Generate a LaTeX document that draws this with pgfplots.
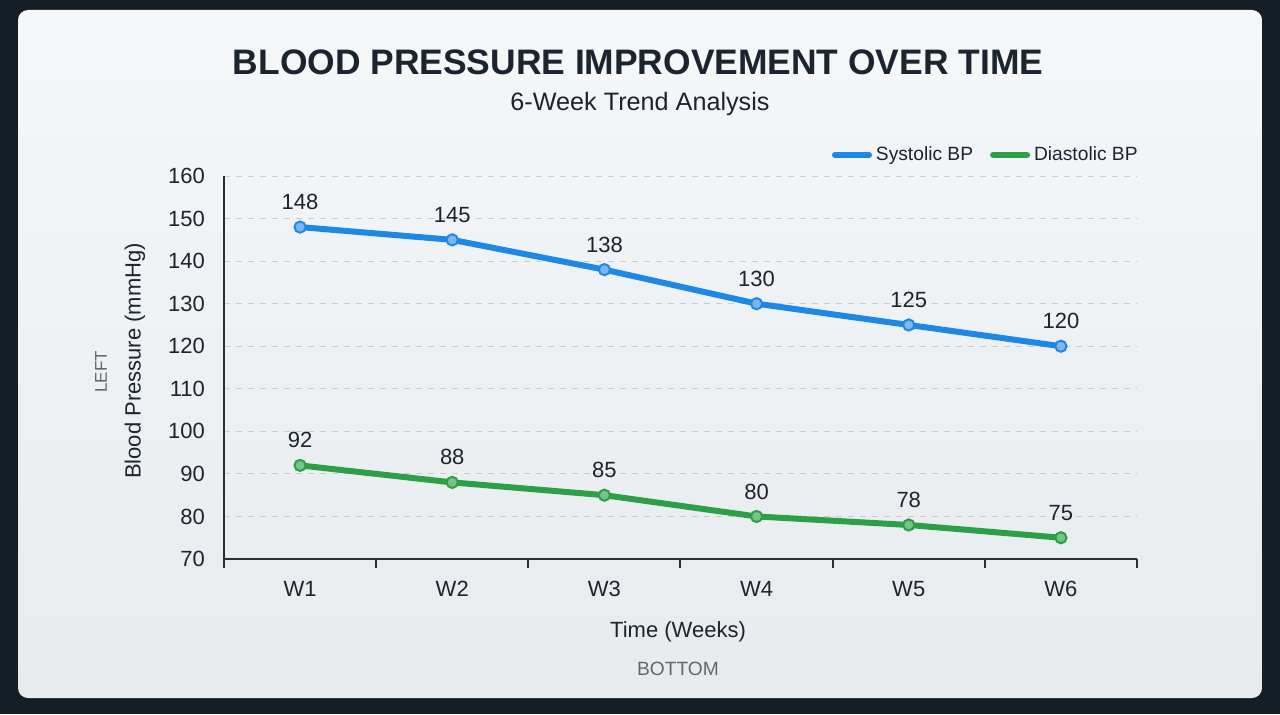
\documentclass[border=0pt]{standalone}
\usepackage{pgfplots}
\pgfplotsset{compat=1.18}
\usepackage{fontspec}
\setmainfont{Liberation Sans}
\definecolor{bgdark}{HTML}{151D27}
\definecolor{cardtop}{HTML}{F5F7F9}
\definecolor{cardbot}{HTML}{E7EBEE}
\definecolor{sysblue}{HTML}{1E88E5}
\definecolor{sysfill}{HTML}{7DB6F0}
\definecolor{diagreen}{HTML}{2E9E48}
\definecolor{diafill}{HTML}{74C488}
\definecolor{txtdark}{HTML}{1C2430}
\definecolor{txtgray}{HTML}{62676D}
\definecolor{axdark}{HTML}{2A2F36}
\begin{document}
\begin{tikzpicture}[x=1pt,y=1pt]
\useasboundingbox (0,0) rectangle (640,357);
\fill[bgdark] (0,0) rectangle (640,357);
\shade[rounded corners=5pt, top color=cardtop, bottom color=cardbot] (9,8) rectangle (631,352);
\node[font=\fontsize{17.7}{20}\selectfont\bfseries, text=txtdark] at (319,326) {BLOOD PRESSURE IMPROVEMENT OVER TIME};
\node[font=\fontsize{12.6}{15}\selectfont, text=txtdark] at (320,305) {6-Week Trend Analysis};
\node[font=\fontsize{11}{13}\selectfont, text=txtdark, rotate=90] at (67.5,176.5) {Blood Pressure (mmHg)};
\node[font=\fontsize{8.5}{10}\selectfont, text=txtgray, rotate=90] at (50.5,171) {LEFT};
\node[font=\fontsize{11}{13}\selectfont, text=txtdark] at (339,41) {Time (Weeks)};
\node[font=\fontsize{9.6}{11}\selectfont, text=txtgray] at (339,22.5) {BOTTOM};
\begin{axis}[
  at={(112pt,77.5pt)}, anchor=south west,
  scale only axis, width=456.5pt, height=191.5pt,
  xmin=-0.5, xmax=5.5, ymin=70, ymax=160,
  axis x line*=bottom, axis y line*=left,
  axis line style={-, color=axdark, line width=1pt},
  xtick={0,1,2,3,4,5},
  xticklabels={W1,W2,W3,W4,W5,W6},
  minor xtick={-0.5,0.5,1.5,2.5,3.5,4.5,5.5},
  ytick={70,80,...,160},
  major tick length=0pt, minor tick length=4.5pt,
  tick align=outside,
  minor tick style={color=axdark, line width=1pt},
  ymajorgrids,
  grid style={color=black!20, line width=0.5pt, dash pattern=on 3pt off 3pt},
  /pgf/number format/assume math mode=true,
  ticklabel style={font=\fontsize{11}{13}\selectfont, text=txtdark},
  yticklabel style={xshift=-6pt},
  xticklabel style={yshift=-7.5pt},
  nodes near coords,
  every node near coord/.append style={font=\fontsize{11}{13}\selectfont, text=txtdark, anchor=center, yshift=12.5pt},
  legend columns=2,
  legend style={at={(rel axis cs:1,1.055)}, anchor=east, xshift=2.5pt, draw=none, fill=none, inner sep=0pt,
    font=\fontsize{9.6}{11}\selectfont, text=txtdark,
    /tikz/every even column/.append style={column sep=6.5pt}},
  legend image code/.code={\draw[#1, line cap=round, mark=none] (0pt,0pt) -- (17pt,0pt);},
  clip=false,
]
\addplot[color=sysblue, line width=3pt, mark=*, mark size=2.8pt,
  mark options={fill=sysfill, draw=sysblue, line width=1pt}]
  coordinates {(0,148) (1,145) (2,138) (3,130) (4,125) (5,120)};
\addlegendentry{Systolic BP}
\addplot[color=diagreen, line width=3pt, mark=*, mark size=2.8pt,
  mark options={fill=diafill, draw=diagreen, line width=1pt}]
  coordinates {(0,92) (1,88) (2,85) (3,80) (4,78) (5,75)};
\addlegendentry{Diastolic BP}
\end{axis}
\end{tikzpicture}
\end{document}
